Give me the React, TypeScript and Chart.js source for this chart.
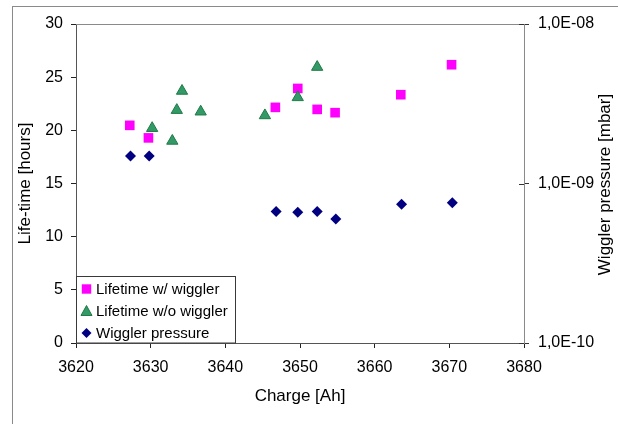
import React, { useEffect, useRef } from 'react';
import { Chart, registerables } from 'chart.js';

Chart.register(...registerables);

// ---- data ----
const chargeWithWiggler = [3627.2, 3629.7, 3646.7, 3649.7, 3652.3, 3654.7, 3663.5, 3670.3];
const lifetimeWithWiggler = [20.47, 19.29, 22.16, 23.94, 21.97, 21.66, 23.35, 26.17];

const chargeWithoutWiggler = [3630.2, 3632.9, 3633.5, 3634.2, 3636.7, 3645.3, 3649.7, 3652.3];
const lifetimeWithoutWiggler = [20.2, 19.0, 21.9, 23.7, 21.75, 21.4, 23.1, 25.95];

const pressureCharge = [3627.3, 3629.8, 3646.8, 3649.7, 3652.3, 3654.8, 3663.6, 3670.4];
const wigglerPressure = [1.49e-9, 1.49e-9, 6.68e-10, 6.6e-10, 6.68e-10, 5.98e-10, 7.4e-10, 7.57e-10];

const xTickValues = [3620, 3630, 3640, 3650, 3660, 3670, 3680];
const yTickValues = [0, 5, 10, 15, 20, 25, 30];
const pressureTickValues = [1e-10, 1e-9, 1e-8];

const seriesLabels = ['Lifetime w/ wiggler', 'Lifetime w/o wiggler', 'Wiggler pressure'];
const xTitle = 'Charge [Ah]';
const yTitle = 'Life-time [hours]';
const y2Title = 'Wiggler pressure [mbar]';

const FONT = "'Liberation Sans', Arial, sans-serif";
const PINK = '#FF00FF';
const GREEN = '#339966';
const GREEN_EDGE = '#1E7B45';
const NAVY = '#000080';

const zip = (xs: number[], ys: number[]) => xs.map((x, i) => ({ x, y: ys[i] }));

const fmtPressure = (v: number) => {
  const e = Math.round(Math.log10(v));
  const s = e < 0 ? '-' : '+';
  return `1,0E${s}${String(Math.abs(e)).padStart(2, '0')}`;
};

const decorPlugin = {
  id: 'decor',
  beforeDraw(chart: any) {
    const { ctx, width, height } = chart;
    ctx.save();
    ctx.fillStyle = '#ffffff';
    ctx.fillRect(0, 0, width, height);
    ctx.restore();
  },
  afterDraw(chart: any) {
    const { ctx, chartArea: a } = chart;
    ctx.save();
    // outer frame
    ctx.strokeStyle = '#8a8a8a';
    ctx.lineWidth = 1;
    ctx.strokeRect(12.5, 6.5, 800, 600);
    // plot-area top border
    ctx.strokeStyle = '#8a8a8a';
    ctx.beginPath();
    ctx.moveTo(a.left, Math.round(a.top) + 0.5);
    ctx.lineTo(a.right, Math.round(a.top) + 0.5);
    ctx.stroke();
    // inward half of crossing ticks on right axis
    const y2 = chart.scales.y2;
    ctx.strokeStyle = '#333333';
    ctx.beginPath();
    pressureTickValues.forEach((v) => {
      const py = Math.round(y2.getPixelForValue(v)) + 0.5;
      ctx.moveTo(a.right - 5, py);
      ctx.lineTo(a.right, py);
    });
    ctx.stroke();
    // right axis title (reads bottom to top)
    ctx.fillStyle = '#000000';
    ctx.font = `17px ${FONT}`;
    ctx.textAlign = 'center';
    ctx.textBaseline = 'middle';
    ctx.translate(605, (a.top + a.bottom) / 2 + 1);
    ctx.rotate(-Math.PI / 2);
    ctx.fillText(y2Title, 0, 0);
    ctx.restore();

    // legend box
    ctx.save();
    const bx = a.left + 0.5;
    const by = 276.5;
    const bw = 159;
    const bh = a.bottom - by;
    ctx.fillStyle = '#ffffff';
    ctx.fillRect(bx, by, bw, bh);
    ctx.strokeStyle = '#3a3a3a';
    ctx.lineWidth = 1;
    ctx.strokeRect(bx, by, bw, bh);
    const rows = [289, 311, 333];
    const mx = a.left + 10.5;
    // square
    ctx.fillStyle = PINK;
    ctx.fillRect(mx - 4.7, rows[0] - 4.7, 9.4, 9.4);
    // triangle
    ctx.fillStyle = GREEN;
    ctx.strokeStyle = GREEN_EDGE;
    ctx.beginPath();
    ctx.moveTo(mx, rows[1] - 5.5);
    ctx.lineTo(mx + 5.5, rows[1] + 4.5);
    ctx.lineTo(mx - 5.5, rows[1] + 4.5);
    ctx.closePath();
    ctx.fill();
    ctx.stroke();
    // diamond
    ctx.fillStyle = NAVY;
    ctx.beginPath();
    ctx.moveTo(mx, rows[2] - 5);
    ctx.lineTo(mx + 5, rows[2]);
    ctx.lineTo(mx, rows[2] + 5);
    ctx.lineTo(mx - 5, rows[2]);
    ctx.closePath();
    ctx.fill();
    // texts
    ctx.fillStyle = '#000000';
    ctx.font = `15px ${FONT}`;
    ctx.textAlign = 'left';
    ctx.textBaseline = 'middle';
    seriesLabels.forEach((t, i) => ctx.fillText(t, a.left + 20, rows[i] + 1));
    ctx.restore();
  },
};

export default function App() {
  const canvasRef = useRef<HTMLCanvasElement | null>(null);

  useEffect(() => {
    if (!canvasRef.current) return;
    const chart = new Chart(canvasRef.current, {
      type: 'scatter',
      data: {
        datasets: [
          {
            label: seriesLabels[0],
            data: zip(chargeWithWiggler, lifetimeWithWiggler),
            pointStyle: 'rect',
            pointRadius: 6.8,
            backgroundColor: PINK,
            borderColor: PINK,
            borderWidth: 0,
            yAxisID: 'y',
            order: 3,
          },
          {
            label: seriesLabels[1],
            data: zip(chargeWithoutWiggler, lifetimeWithoutWiggler),
            pointStyle: 'triangle',
            pointRadius: 6.5,
            backgroundColor: GREEN,
            borderColor: GREEN_EDGE,
            borderWidth: 1,
            yAxisID: 'y',
            order: 2,
          },
          {
            label: seriesLabels[2],
            data: zip(pressureCharge, wigglerPressure),
            pointStyle: 'rectRot',
            pointRadius: 5.5,
            backgroundColor: NAVY,
            borderColor: NAVY,
            borderWidth: 0,
            yAxisID: 'y2',
            order: 1,
          },
        ],
      },
      options: {
        animation: false,
        responsive: true,
        maintainAspectRatio: false,
        layout: { padding: { top: 24, left: 0, right: 0, bottom: 0 } },
        plugins: {
          legend: { display: false },
          tooltip: { enabled: false },
        },
        scales: {
          x: {
            type: 'linear',
            position: 'bottom',
            min: xTickValues[0],
            max: xTickValues[xTickValues.length - 1],
            afterBuildTicks: (s: any) => {
              s.ticks = xTickValues.map((value) => ({ value }));
            },
            afterFit: (s: any) => {
              s.height = 81;
            },
            ticks: {
              callback: (v: any) => String(v),
              color: '#000',
              font: { family: FONT, size: 16 },
              padding: 10,
              maxRotation: 0,
            },
            grid: { drawOnChartArea: false, drawTicks: true, tickLength: 5, color: '#222' },
            border: { color: '#555' },
            title: {
              display: true,
              text: xTitle,
              color: '#000',
              font: { family: FONT, size: 17 },
              padding: { top: 0, bottom: 17 },
            },
          },
          y: {
            type: 'linear',
            position: 'left',
            min: yTickValues[0],
            max: yTickValues[yTickValues.length - 1],
            afterBuildTicks: (s: any) => {
              s.ticks = yTickValues.map((value) => ({ value }));
            },
            afterFit: (s: any) => {
              s.width = 76;
            },
            ticks: {
              color: '#000',
              font: { family: FONT, size: 16 },
              padding: 8,
            },
            grid: { drawOnChartArea: false, drawTicks: true, tickLength: 5, color: '#222' },
            border: { color: '#555' },
            title: {
              display: true,
              text: yTitle,
              color: '#000',
              font: { family: FONT, size: 17 },
              padding: { top: 15, bottom: 0 },
            },
          },
          y2: {
            type: 'logarithmic',
            position: 'right',
            min: pressureTickValues[0],
            max: pressureTickValues[pressureTickValues.length - 1],
            afterBuildTicks: (s: any) => {
              s.ticks = pressureTickValues.map((value) => ({ value }));
            },
            afterFit: (s: any) => {
              s.width = 94;
            },
            ticks: {
              callback: (v: any) => fmtPressure(Number(v)),
              color: '#000',
              font: { family: FONT, size: 16 },
              padding: 9,
            },
            grid: { drawOnChartArea: false, drawTicks: true, tickLength: 5, color: '#333' },
            border: { color: '#8a8a8a' },
          },
        },
      },
      plugins: [decorPlugin],
    } as any);
    return () => chart.destroy();
  }, []);

  return (
    <div style={{ position: 'absolute', left: 0, top: 0, width: 618, height: 424 }}>
      <canvas ref={canvasRef} />
    </div>
  );
}
